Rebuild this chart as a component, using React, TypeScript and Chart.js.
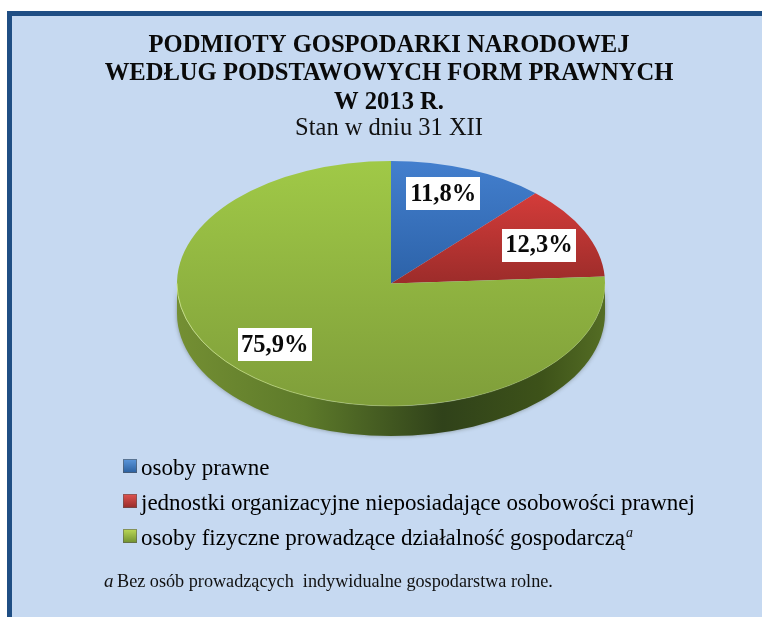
import React, { useEffect, useRef } from "react";
import { Chart, registerables } from "chart.js";

Chart.register(...registerables);

const categories = [
  "osoby prawne",
  "jednostki organizacyjne nieposiadające osobowości prawnej",
  "osoby fizyczne prowadzące działalność gospodarczą",
];
const shares = [11.8, 12.3, 75.9];
const titleLines = ["PODMIOTY GOSPODARKI NARODOWEJ", "WEDŁUG PODSTAWOWYCH FORM PRAWNYCH", "W 2013 R."];
const subtitleText = "Stan w dniu 31 XII";
const footnoteMark = "a";
const footnoteText = "Bez osób prowadzących  indywidualne gospodarstwa rolne.";

const SERIF = '"Liberation Serif", "Times New Roman", serif';
const PIE_CX = 391;
const PIE_CY = 283.5;
const RX = 214;
const RY = 122.5;
const DEPTH = 30;
const SQUASH = RY / RX;
const LABEL_NUDGE = [[-6, -4], [3, 1], [-6, -6]];
const LEGEND_LEFT = 115.5;

const sliceStops = [
  { from: -1, to: 0, top: "#437fce", bottom: "#2c62a8" },
  { from: -0.75, to: 0, top: "#d53c3a", bottom: "#9c2c2a" },
  { from: -1, to: 1, top: "#a0c947", bottom: "#7f9e3a" },
];
const markerColors = [
  ["#5b97dc", "#2a5f9e"],
  ["#e05350", "#962b29"],
  ["#bcd957", "#70902f"],
];

function makeMarker(i: number) {
  const c = document.createElement("canvas");
  c.width = 17;
  c.height = 20;
  const g = c.getContext("2d")!;
  const grad = g.createLinearGradient(0, 0, 0, 14);
  grad.addColorStop(0, markerColors[i][0]);
  grad.addColorStop(1, markerColors[i][1]);
  g.fillStyle = grad;
  g.fillRect(3, 0, 14, 14);
  g.strokeStyle = "rgba(90,90,90,0.55)";
  g.strokeRect(3.5, 0.5, 13, 13);
  return c;
}

const legendPlacement = {
  id: "legendPlacement",
  afterLayout(chart: any) {
    chart.legend.left = LEGEND_LEFT;
    chart.legend.right = chart.width;
  },
};

const piePerspective = {
  id: "piePerspective",
  beforeDatasetsDraw(chart: any) {
    const arc = chart.getDatasetMeta(0).data[0];
    const ctx = chart.ctx;
    ctx.save();
    // side wall
    ctx.save();
    const side = ctx.createLinearGradient(PIE_CX - RX, 0, PIE_CX + RX, 0);
    side.addColorStop(0, "#748f33");
    side.addColorStop(0.3, "#5d7a2a");
    side.addColorStop(0.62, "#30421a");
    side.addColorStop(0.85, "#3d5219");
    side.addColorStop(1, "#546d24");
    ctx.fillStyle = side;
    ctx.shadowColor = "rgba(50,60,40,0.45)";
    ctx.shadowBlur = 4;
    ctx.beginPath();
    ctx.ellipse(PIE_CX, PIE_CY, RX, RY, 0, 0, Math.PI, false);
    ctx.ellipse(PIE_CX, PIE_CY + DEPTH, RX, RY, 0, Math.PI, 0, true);
    ctx.closePath();
    ctx.fill();
    ctx.restore();
    // squash the library's circular arcs into the tilted disc
    ctx.translate(PIE_CX, PIE_CY);
    ctx.scale(1, SQUASH);
    ctx.translate(-arc.x, -arc.y);
  },
  afterDatasetsDraw(chart: any) {
    const ctx = chart.ctx;
    ctx.restore();
    // rim highlight
    const rim = ctx.createLinearGradient(PIE_CX - RX, 0, PIE_CX + RX, 0);
    rim.addColorStop(0, "rgba(205,228,140,0.85)");
    rim.addColorStop(0.5, "rgba(205,228,140,0.35)");
    rim.addColorStop(1, "rgba(205,228,140,0.25)");
    ctx.strokeStyle = rim;
    ctx.lineWidth = 1;
    ctx.beginPath();
    ctx.ellipse(PIE_CX, PIE_CY, RX, RY, 0, 0, Math.PI, false);
    ctx.stroke();
    // value labels
    const arcs = chart.getDatasetMeta(0).data;
    ctx.font = `bold 24.5px ${SERIF}`;
    ctx.textAlign = "center";
    ctx.textBaseline = "middle";
    arcs.forEach((a: any, i: number) => {
      const mid = (a.startAngle + a.endAngle) / 2;
      const x = PIE_CX + Math.cos(mid) * RX * 0.75 + LABEL_NUDGE[i][0];
      const y = PIE_CY + Math.sin(mid) * RY * 0.75 + LABEL_NUDGE[i][1];
      ctx.fillStyle = "#ffffff";
      ctx.fillRect(Math.round(x - 37), Math.round(y - 16.5), 74, 33);
      ctx.fillStyle = "#0a0a0a";
      ctx.fillText(`${shares[i].toFixed(1).replace(".", ",")}%`, x, y + 1);
    });
  },
};

const notes = {
  id: "notes",
  afterDraw(chart: any) {
    const ctx = chart.ctx;
    ctx.save();
    ctx.fillStyle = "#111111";
    ctx.textBaseline = "alphabetic";
    ctx.textAlign = "left";
    // superscript after the third legend entry
    const box = chart.legend.legendHitBoxes[2];
    ctx.font = `italic 14px ${SERIF}`;
    ctx.fillText(footnoteMark, box.left + box.width + 1, box.top + 9);
    // footnote
    ctx.font = `italic 19px ${SERIF}`;
    ctx.fillText(footnoteMark, 104, 587);
    ctx.font = `18.2px ${SERIF}`;
    ctx.fillText(footnoteText, 117, 587);
    ctx.restore();
  },
};

export default function App() {
  const ref = useRef<HTMLCanvasElement | null>(null);

  useEffect(() => {
    const canvas = ref.current!;
    const chart = new Chart(canvas, {
      type: "pie",
      data: {
        labels: categories,
        datasets: [
          {
            data: shares,
            radius: RX,
            clip: false,
            borderWidth: 0,
            backgroundColor: (c: any) => {
              const area = c.chart.chartArea;
              if (!area) return "#888888";
              const s = sliceStops[c.dataIndex];
              const cy = (area.top + area.bottom) / 2;
              const g = c.chart.ctx.createLinearGradient(0, cy + s.from * RX, 0, cy + s.to * RX);
              g.addColorStop(0, s.top);
              g.addColorStop(1, s.bottom);
              return g;
            },
          } as any,
        ],
      },
      options: {
        responsive: false,
        animation: false,
        devicePixelRatio: 1,
        layout: { padding: { left: 99, right: 83, top: 0, bottom: 56.5 } },
        plugins: {
          tooltip: { enabled: false },
          title: {
            display: true,
            text: titleLines,
            color: "#0a0a0a",
            font: { family: SERIF, size: 24.6, weight: "bold", lineHeight: 1.16 },
            padding: { top: 31, bottom: 0 },
          },
          subtitle: {
            display: true,
            text: subtitleText,
            color: "#111111",
            font: { family: SERIF, size: 24.5, weight: "normal", lineHeight: 1 },
            padding: 0,
          },
          legend: {
            position: "bottom",
            align: "start",
            labels: {
              usePointStyle: true,
              pointStyleWidth: 2,
              padding: 12,
              color: "#111111",
              font: { family: SERIF, size: 23 },
              generateLabels: () =>
                categories.map((text, i) => ({
                  text,
                  index: i,
                  datasetIndex: 0,
                  hidden: false,
                  lineWidth: 0,
                  fillStyle: markerColors[i][1],
                  strokeStyle: markerColors[i][1],
                  pointStyle: makeMarker(i),
                })),
            },
          },
        },
      } as any,
      plugins: [legendPlacement, piePerspective, notes],
    });
    return () => chart.destroy();
  }, []);

  return (
    <div style={{ position: "fixed", left: 0, top: 0, width: 762, height: 617, background: "#ffffff", overflow: "hidden" }}>
      <div
        style={{
          position: "absolute",
          left: 7,
          top: 11,
          right: 0,
          bottom: 0,
          background: "#c6d9f1",
          borderLeft: "5px solid #1f4e84",
          borderTop: "5px solid #1f4e84",
        }}
      />
      <canvas ref={ref} width={762} height={617} style={{ position: "absolute", left: 0, top: 0, display: "block" }} />
    </div>
  );
}
